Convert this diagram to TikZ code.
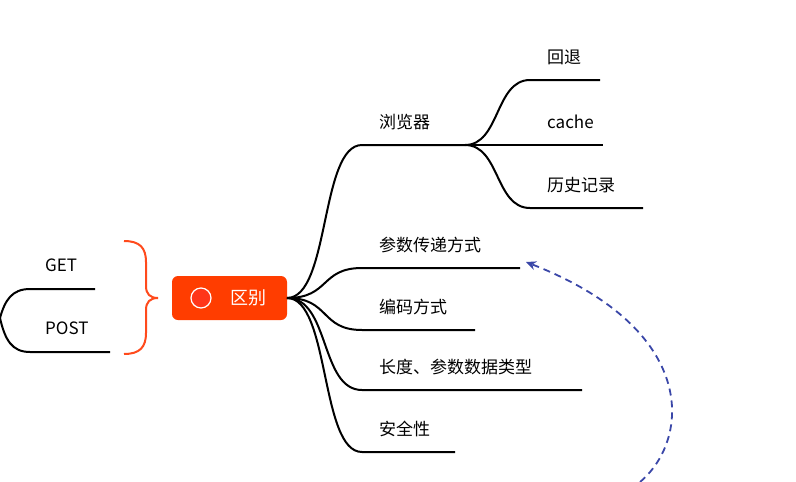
\documentclass[tikz,border=0pt]{standalone}
\usepackage{fontspec}
\setmainfont{Noto Sans CJK SC}
\usetikzlibrary{arrows.meta}
\definecolor{bra}{HTML}{FF4A1C}
\definecolor{cen}{HTML}{FF3D00}
\definecolor{blu}{HTML}{3A47A8}
\tikzset{br/.style={line width=2pt,black},lab/.style={font=\fontsize{17}{20}\selectfont,anchor=west,inner sep=0pt}}
\begin{document}
\begin{tikzpicture}[x=1pt,y=-1pt]
\useasboundingbox (0,0) rectangle (796,482);
% left
\draw[br] (0,318) .. controls (5,300) and (12,289) .. (30,289) -- (95,289);
\draw[br] (0,318) .. controls (5,340) and (12,352) .. (30,352) -- (110,352);
\node[lab] (get) at (45,265) {GET};
\node[lab] (post) at (45,328) {POST};
% bracket
\draw[bra,line width=2pt] (124,241) .. controls (140,241) and (146,248) .. (146,262) -- (146,286) .. controls (146,294) and (150,298) .. (158,298);
\draw[bra,line width=2pt] (124,354) .. controls (140,354) and (146,347) .. (146,333) -- (146,310) .. controls (146,302) and (150,298) .. (158,298);
% center
\node[fill=cen,rounded corners=6pt,minimum width=115pt,minimum height=44pt] (c) at (229.5,298) {};
\node[circle,fill=red!75!orange!90!white,draw=white,line width=1.2pt,minimum size=20pt,inner sep=0pt] (dot) at (201,298) {};
\node[text=white,font=\fontsize{18}{20}\selectfont] (q) at (248,298) {区别};
\coordinate (o) at (287,298);
% right
\foreach \y/\x/\t/\n in {145/465/浏览器/a,268/520/参数传递方式/b,330/475/编码方式/c2,390/582/长度、参数数据类型/d,452/455/安全性/e}{
  \draw[br] (o) .. controls (330,298) and (320,\y) .. (362,\y) -- (\x,\y);
  \node[lab] (\n) at (379,\y-23) {\t};
}
\coordinate (m) at (465,145);
\foreach \y/\x/\t/\n in {80/600/回退/f,145/603/cache/g,208/643/历史记录/h}{
  \draw[br] (m) .. controls (500,145) and (495,\y) .. (530,\y) -- (\x,\y);
  \node[lab] (\n) at (547,\y-23) {\t};
}
% dashed arrow
\coordinate (s) at (640,482);
\coordinate (t) at (526,262);
\draw[blu,line width=1.8pt,dash pattern=on 7pt off 5pt,-{Stealth[length=10pt,width=9pt]}] (s) .. controls (690,440) and (700,330) .. (t);
\end{tikzpicture}
\end{document}
